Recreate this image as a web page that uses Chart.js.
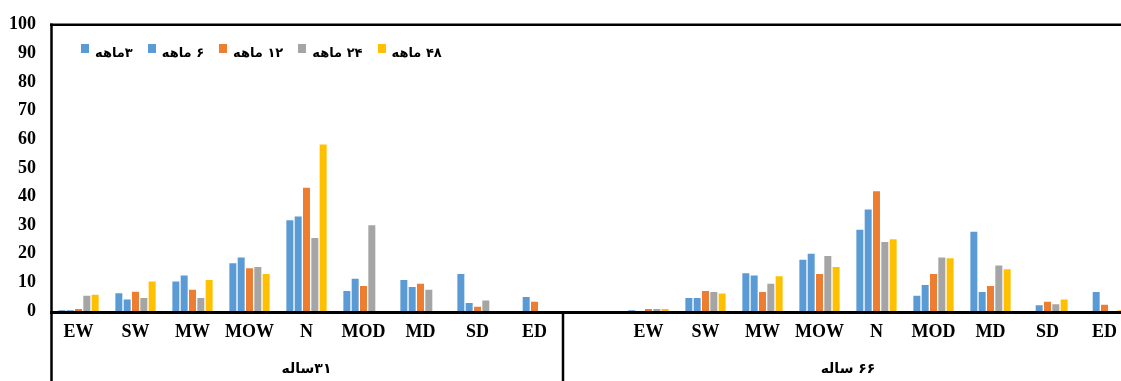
<!DOCTYPE html>
<html><head><meta charset="utf-8">
<script src="https://cdn.jsdelivr.net/npm/chart.js@4.4.1/dist/chart.umd.min.js"></script>
<style>
html,body{margin:0;padding:0;background:#fff;overflow:hidden;width:1121px;height:381px;}
#wrap{position:relative;width:1140px;height:381px;}
#c{position:absolute;left:0;top:0;}
#legend{position:absolute;left:81px;top:44px;display:flex;font:bold 13px "DejaVu Sans",sans-serif;color:#000;}
.item{display:flex;align-items:flex-start;margin-right:15px;}
.box{width:8px;height:9px;margin-right:6px;margin-top:0px;}
.txt{direction:rtl;unicode-bidi:isolate;line-height:18px;}
.grp{position:absolute;top:360px;transform:translateX(-50%);direction:rtl;font:bold 14px "DejaVu Sans",sans-serif;color:#000;white-space:nowrap;}
</style></head>
<body>
<div id="wrap">
<canvas id="c" width="1140" height="381"></canvas>
<div id="legend"></div>
<div class="grp" id="g0"></div>
<div class="grp" id="g1"></div>
</div>
<script>
// ---- data ----
const categories = ['EW','SW','MW','MOW','N','MOD','MD','SD','ED'];
const groupNames = ['۳۱ساله','۶۶ ساله'];
const seriesNames = ['۳ماهه','۶ ماهه','۱۲ ماهه','۲۴ ماهه','۴۸ ماهه'];
const seriesColors = ['#5B9BD5','#5B9BD5','#ED7D31','#A5A5A5','#FFC000'];

// group ۳۱ساله
const g31_m3  = [0.3, 6.2, 10.3, 16.7, 31.7, 7.0, 10.8, 12.9, 0];
const g31_m6  = [0.3, 4.0, 12.4, 18.7, 33.0, 11.3, 8.4, 2.8, 4.9];
const g31_m12 = [0.7, 6.7, 7.4, 14.9, 43.1, 8.7, 9.5, 1.5, 3.2];
const g31_m24 = [5.3, 4.5, 4.5, 15.4, 25.5, 30.0, 7.4, 3.7, 0];
const g31_m48 = [5.7, 10.3, 10.8, 12.9, 58.2, 0, 0, 0, 0];
// group ۶۶ ساله
const g66_m3  = [0.3, 4.5, 13.2, 17.9, 28.4, 5.3, 27.7, 0, 0];
const g66_m6  = [0, 4.5, 12.4, 20.0, 35.5, 9.1, 6.6, 2.0, 6.6];
const g66_m12 = [0.7, 7.0, 6.6, 12.9, 41.8, 12.9, 8.7, 3.2, 2.2];
const g66_m24 = [0.7, 6.6, 9.5, 19.2, 24.1, 18.7, 15.9, 2.4, 0];
const g66_m48 = [0.7, 6.1, 12.1, 15.4, 25.1, 18.4, 14.6, 4.0, 0.3];

const yMin = 0, yMax = 100, yStep = 10;

// ---- build ----
const leftSeries = [g31_m3, g31_m6, g31_m12, g31_m24, g31_m48];
const rightSeries = [g66_m3, g66_m6, g66_m12, g66_m24, g66_m48];
const labels = categories.concat(['']).concat(categories);
const nLeft = categories.length;

const datasets = seriesNames.map((name, i) => ({
  label: name,
  data: leftSeries[i].concat([null]).concat(rightSeries[i]),
  backgroundColor: seriesColors[i],
  borderWidth: 0
}));

// legend
const legend = document.getElementById('legend');
seriesNames.forEach((n, i) => {
  const it = document.createElement('div'); it.className = 'item';
  const b = document.createElement('div'); b.className = 'box'; b.style.background = seriesColors[i];
  const t = document.createElement('div'); t.className = 'txt'; t.textContent = n;
  it.appendChild(b); it.appendChild(t); legend.appendChild(it);
});
document.getElementById('g0').textContent = groupNames[0];
document.getElementById('g1').textContent = groupNames[1];

const tickFont = {family: '"Liberation Serif", "Times New Roman", serif', size: 18, weight: 'bold'};

const framePlugin = {
  id: 'frame',
  afterDatasetsDraw(chart) {
    const {ctx, chartArea: a, scales: {x}} = chart;
    const W = chart.width, H = chart.height;
    const line = (x1, y1, x2, y2, w) => {
      ctx.lineWidth = w; ctx.beginPath(); ctx.moveTo(x1, y1); ctx.lineTo(x2, y2); ctx.stroke();
    };
    const xd = (x.getPixelForValue(nLeft - 1) + x.getPixelForValue(nLeft)) / 2;
    ctx.save();
    ctx.strokeStyle = '#000';
    line(a.left, a.top, W, a.top, 2.5);
    line(a.left, a.bottom + 1.5, W, a.bottom + 1.5, 3);
    line(a.left + 1.5, a.top - 1.25, a.left + 1.5, H, 2.5);
    line(xd, a.bottom, xd, H, 2.5);
    ctx.restore();
    document.getElementById('g0').style.left = ((a.left + xd) / 2) + 'px';
    document.getElementById('g1').style.left = ((xd + a.right) / 2) + 'px';
  }
};

new Chart(document.getElementById('c'), {
  type: 'bar',
  data: {labels, datasets},
  plugins: [framePlugin],
  options: {
    responsive: false,
    animation: false,
    devicePixelRatio: 1,
    layout: {padding: {top: 19.5, right: 7, left: 0, bottom: 0}},
    plugins: {legend: {display: false}, tooltip: {enabled: false}},
    datasets: {bar: {categoryPercentage: 0.73, barPercentage: 0.84}},
    scales: {
      x: {
        grid: {display: false, drawTicks: false},
        border: {display: false},
        ticks: {font: tickFont, color: '#000', padding: 11, maxRotation: 0, autoSkip: false},
        afterFit(s) { s.height = 70; }
      },
      y: {
        min: yMin, max: yMax,
        grid: {display: false, drawTicks: false},
        border: {display: false},
        ticks: {stepSize: yStep, font: tickFont, color: '#000', padding: 14},
        afterFit(s) { s.width = 50; }
      }
    }
  }
});
</script>
</body></html>
